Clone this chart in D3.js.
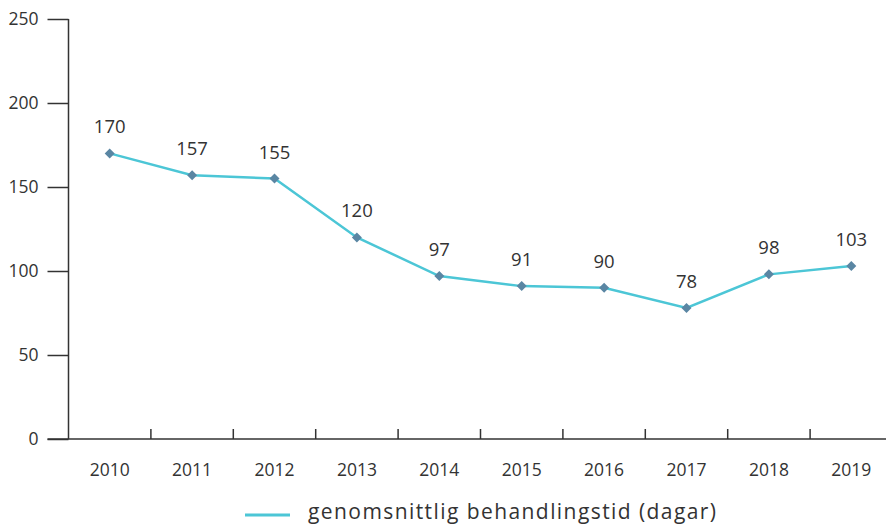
<!DOCTYPE html>
<html><head><meta charset="utf-8">
<script src="https://cdn.jsdelivr.net/npm/d3@7"></script>
<style>body{margin:0;background:#fff}svg{display:block;font-family:"Open Sans",sans-serif}</style>
</head><body><svg id="c" width="886" height="525"></svg>
<script>
const years = ["2010","2011","2012","2013","2014","2015","2016","2017","2018","2019"];
const values = [170,157,155,120,97,91,90,78,98,103];
const yTicks = [0,50,100,150,200,250];
const seriesName = "genomsnittlig behandlingstid (dagar)";

(function(){
const svg = d3.select("#c");
const mLeft = 68.5, mRight = 892.5, mTop = 19, mBottom = 439;
const x = d3.scaleBand().domain(years).range([mLeft, mRight]);
const y = d3.scaleLinear().domain([0,250]).range([mBottom, mTop]);
const ink = "#333";
const font = "'Open Sans',sans-serif";

// y axis
const ya = svg.append("g").attr("transform",`translate(${mLeft},0)`)
  .call(d3.axisLeft(y).tickValues(yTicks).tickSize(21).tickPadding(9));
ya.select(".domain").attr("stroke",ink).attr("stroke-width",1.5).attr("d",`M0,${mTop}V${mBottom}`);
ya.selectAll(".tick line").attr("stroke",ink).attr("stroke-width",1.5);
ya.selectAll("text").attr("font-size",17.5).attr("fill",ink).attr("font-family",font);

// x axis
svg.append("line").attr("x1",mLeft-21).attr("x2",886).attr("y1",mBottom).attr("y2",mBottom)
  .attr("stroke",ink).attr("stroke-width",1.5);
svg.selectAll(".xt").data(years.slice(1)).join("line")
  .attr("x1",d=>x(d)).attr("x2",d=>x(d)).attr("y1",mBottom-10).attr("y2",mBottom)
  .attr("stroke",ink).attr("stroke-width",1.5);
svg.selectAll(".xl").data(years).join("text")
  .attr("x",d=>x(d)+x.bandwidth()/2).attr("y",mBottom+37)
  .attr("text-anchor","middle").attr("font-size",17.5).attr("fill",ink).text(d=>d);

const cx = d=>x(d)+x.bandwidth()/2;
const line = d3.line().x((d,i)=>cx(years[i])).y(d=>y(d));
svg.append("path").datum(values).attr("d",line).attr("fill","none")
  .attr("stroke","#4cc6d6").attr("stroke-width",2.5);
svg.selectAll(".pt").data(values).join("path")
  .attr("d",d3.symbol(d3.symbolSquare,50))
  .attr("transform",(d,i)=>`translate(${cx(years[i])},${y(d)}) rotate(45)`)
  .attr("fill","#5a86a3");
svg.selectAll(".lb").data(values).join("text")
  .attr("x",(d,i)=>cx(years[i])).attr("y",d=>y(d)-20)
  .attr("text-anchor","middle").attr("font-size",18.5).attr("fill",ink).text(d=>d);

// legend
svg.append("line").attr("x1",245).attr("x2",290).attr("y1",515).attr("y2",515)
  .attr("stroke","#4cc6d6").attr("stroke-width",3);
svg.append("text").attr("x",308).attr("y",519).attr("font-size",21).attr("fill",ink)
  .attr("textLength",408).attr("lengthAdjust","spacing").text(seriesName);
})();
</script></body></html>
